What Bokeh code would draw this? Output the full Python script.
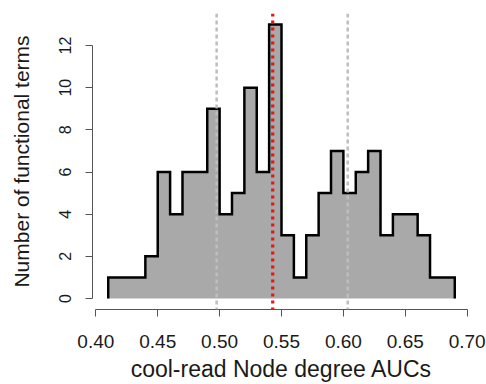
from bokeh.plotting import figure
from bokeh.models import Range1d, FixedTicker, Span, NumeralTickFormatter
from bokeh.embed import file_html
from bokeh.resources import INLINE

# ---- data ----
bin_edges = [0.41, 0.42, 0.43, 0.44, 0.45, 0.46, 0.47, 0.48, 0.49, 0.50,
             0.51, 0.52, 0.53, 0.54, 0.55, 0.56, 0.57, 0.58, 0.59, 0.60,
             0.61, 0.62, 0.63, 0.64, 0.65, 0.66, 0.67, 0.68, 0.69]
counts = [1, 1, 1, 2, 6, 4, 6, 6, 9, 4, 5, 10, 6, 13,
          3, 1, 3, 5, 7, 5, 6, 7, 3, 4, 4, 3, 1, 1]
grey_lines = [0.4976, 0.6035]
red_line = 0.5429
x_ticks = [0.40, 0.45, 0.50, 0.55, 0.60, 0.65, 0.70]
y_ticks = [0, 2, 4, 6, 8, 10, 12]
x_title = "cool-read Node degree AUCs"
y_title = "Number of functional terms"

FONT = "Liberation Sans"

p = figure(width=486, height=384, output_backend="svg", toolbar_location=None,
           x_range=Range1d(0.3973, 0.7027), y_range=Range1d(-0.52, 13.52),
           min_border_left=92, min_border_right=16, min_border_top=13,
           min_border_bottom=73)
p.outline_line_color = None
p.xgrid.visible = False
p.ygrid.visible = False
p.background_fill_color = "white"
p.border_fill_color = "white"

# step outline of the histogram, built from the data
xs = [bin_edges[0]]
ys = [0]
for i, c in enumerate(counts):
    xs += [bin_edges[i], bin_edges[i + 1]]
    ys += [c, c]
xs.append(bin_edges[-1])
ys.append(0)

# one filled polygon (no seams between bins), then the outline
p.patch(xs, ys, fill_color="#A9A9A9", line_color=None)
p.line(xs, ys, line_color="black", line_width=2.5, line_join="miter")

for g in grey_lines:
    p.add_layout(Span(location=g, dimension="height", line_color="#BEBEBE",
                      line_width=2.5, line_dash="4 3"))
p.add_layout(Span(location=red_line, dimension="height", line_color="#EE1111",
                  line_width=3.2, line_dash="3 4"))

# axes, R style
for ax in (p.xaxis[0], p.yaxis[0]):
    ax.axis_line_color = "#555555"
    ax.major_tick_line_color = "#555555"
    ax.major_tick_out = 7
    ax.major_tick_in = 0
    ax.minor_tick_line_color = None
    ax.major_label_text_font = FONT
    ax.major_label_text_color = "#1a1a1a"
    ax.axis_label_text_font = FONT
    ax.axis_label_text_font_style = "normal"
    ax.axis_label_text_color = "#1a1a1a"

xa = p.xaxis[0]
xa.ticker = FixedTicker(ticks=x_ticks)
xa.formatter = NumeralTickFormatter(format="0.00")
xa.bounds = (x_ticks[0], x_ticks[-1])
xa.major_label_text_font_size = "19px"
xa.major_label_standoff = 18
xa.axis_label = x_title
xa.axis_label_text_font_size = "23px"
xa.axis_label_standoff = 5

ya = p.yaxis[0]
ya.ticker = FixedTicker(ticks=y_ticks)
ya.bounds = (y_ticks[0], y_ticks[-1])
ya.major_label_orientation = "vertical"
ya.major_label_text_font_size = "16px"
ya.major_label_standoff = 14
ya.axis_label = y_title
ya.axis_label_text_font_size = "21px"
ya.axis_label_standoff = 24

open("out.html", "w").write(file_html(p, INLINE))
